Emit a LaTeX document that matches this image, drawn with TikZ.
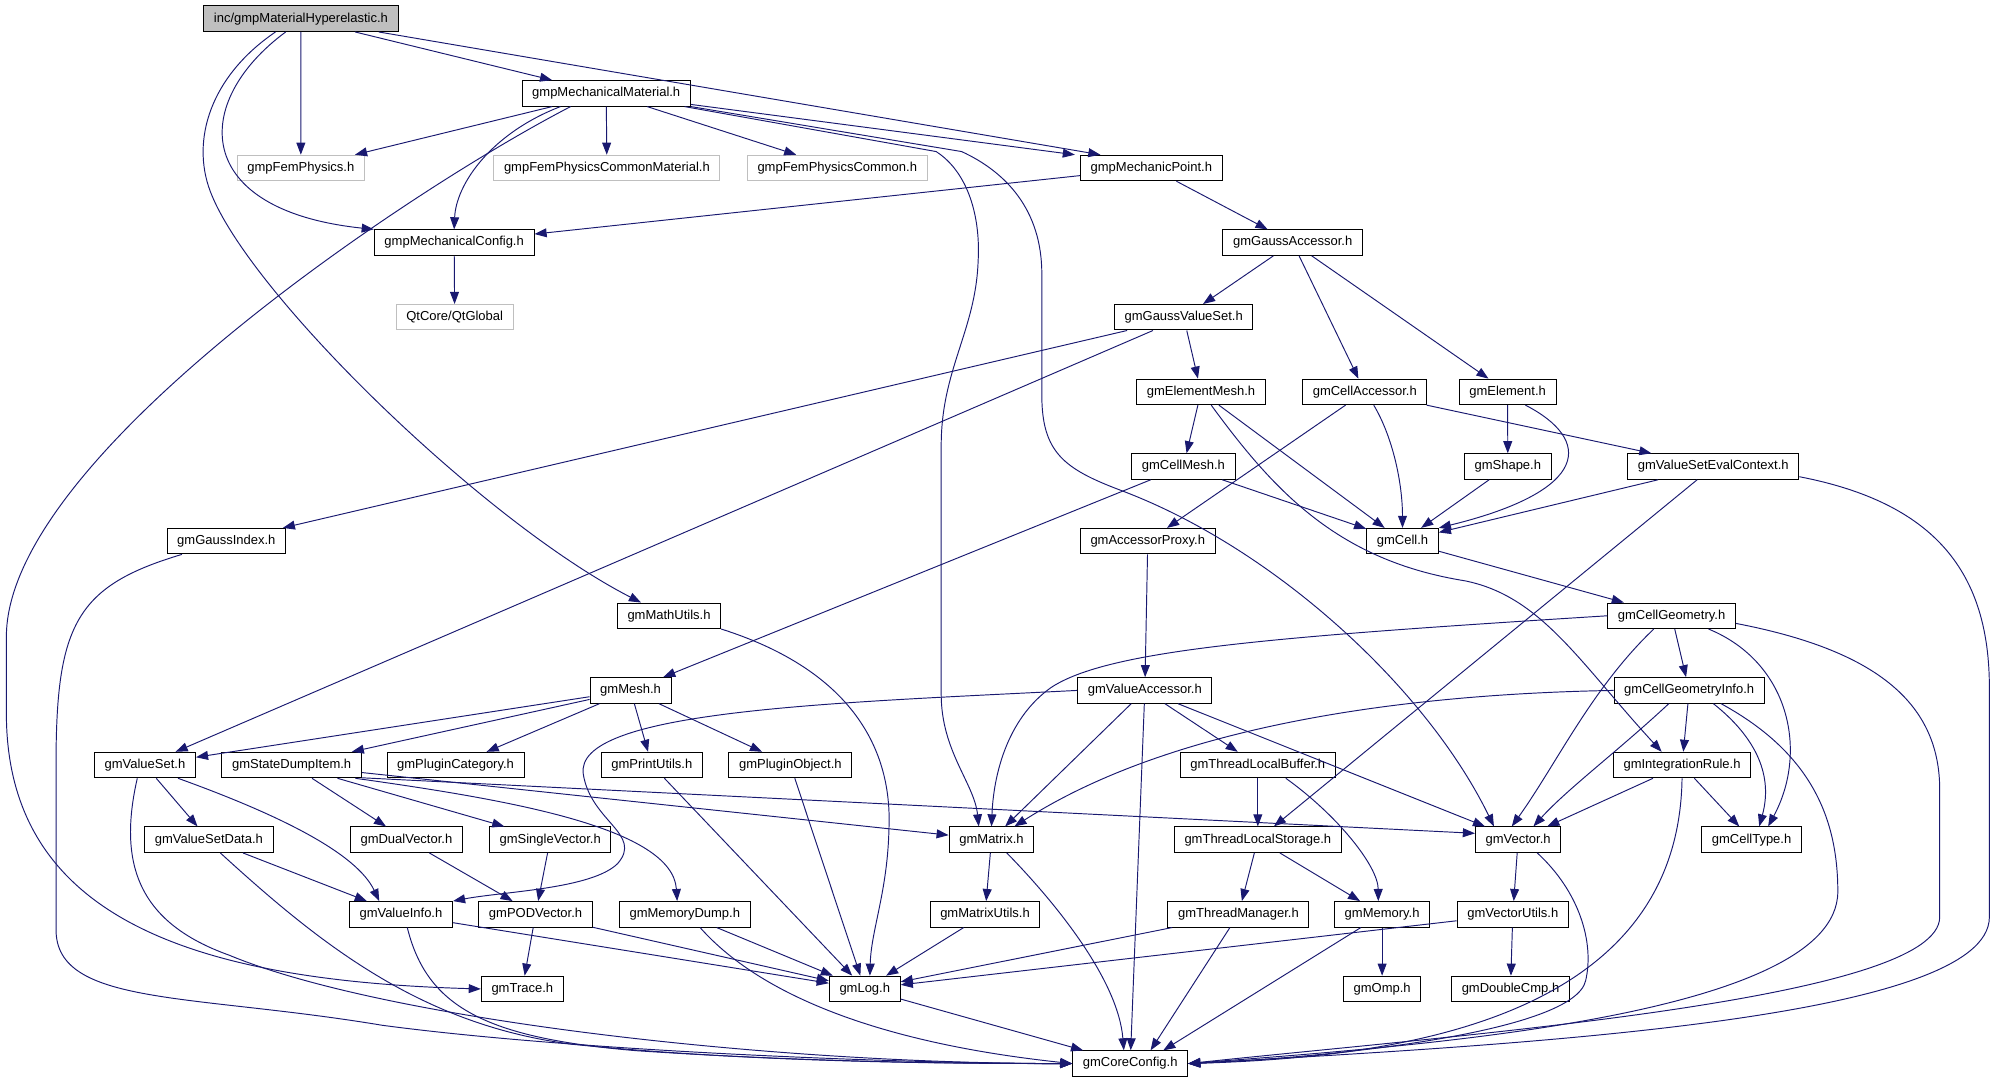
\documentclass[tikz,border=0pt]{standalone}
\usepackage{fontspec}
\setmainfont{Liberation Sans}
\usetikzlibrary{arrows.meta}
\definecolor{edgeblue}{HTML}{191970}
\definecolor{extgray}{HTML}{BFBFBF}
\begin{document}
\begin{tikzpicture}[x=1pt,y=-1pt,
		file/.style={draw=black, line width=0.8pt, fill=white, minimum height=20pt, inner xsep=8pt, inner ysep=0pt, font=\fontsize{10.2}{12}\selectfont},
		ext/.style={file, draw=extgray},
		root/.style={file, fill=extgray},
		dep/.style={draw=edgeblue, line width=0.75pt, -{Triangle[length=9.5pt,width=7pt]}}]
	\useasboundingbox (0,0) rectangle (1568,850.3);
	\node[root] (hyper) at (236.3,14.7) {inc/gmpMaterialHyperelastic.h};
	\node[file] (mechmat) at (476,73.3) {gmpMechanicalMaterial.h};
	\node[ext] (femphys) at (236.2,131.9) {gmpFemPhysics.h};
	\node[ext] (femcommat) at (476.5,131.9) {gmpFemPhysicsCommonMaterial.h};
	\node[ext] (femcom) at (657.4,131.9) {gmpFemPhysicsCommon.h};
	\node[file] (mechpt) at (904,131.9) {gmpMechanicPoint.h};
	\node[file] (mechcfg) at (356.6,190.5) {gmpMechanicalConfig.h};
	\node[file] (gaussacc) at (1015,190.5) {gmGaussAccessor.h};
	\node[ext] (qtglobal) at (357,249.1) {QtCore/QtGlobal};
	\node[file] (gaussvs) at (929.4,249.1) {gmGaussValueSet.h};
	\node[file] (elemmesh) at (943,307.7) {gmElementMesh.h};
	\node[file] (cellacc) at (1071.6,307.7) {gmCellAccessor.h};
	\node[file] (element) at (1183.7,307.7) {gmElement.h};
	\node[file] (cellmesh) at (929.2,366.3) {gmCellMesh.h};
	\node[file] (shape) at (1183.9,366.3) {gmShape.h};
	\node[file] (vsec) at (1345.2,366.3) {gmValueSetEvalContext.h};
	\node[file] (gaussidx) at (177.7,424.9) {gmGaussIndex.h};
	\node[file] (accproxy) at (901.2,424.9) {gmAccessorProxy.h};
	\node[file] (cell) at (1101.2,424.9) {gmCell.h};
	\node[file] (mathutils) at (525.3,483.5) {gmMathUtils.h};
	\node[file] (cellgeo) at (1312.5,483.5) {gmCellGeometry.h};
	\node[file] (mesh) at (495.1,542.1) {gmMesh.h};
	\node[file] (valacc) at (898.9,542.1) {gmValueAccessor.h};
	\node[file] (cellgeoinfo) at (1326.3,542.1) {gmCellGeometryInfo.h};
	\node[file] (valset) at (113.8,600.7) {gmValueSet.h};
	\node[file] (statedump) at (229,600.7) {gmStateDumpItem.h};
	\node[file] (plugcat) at (357.7,600.7) {gmPluginCategory.h};
	\node[file] (printutils) at (511.8,600.7) {gmPrintUtils.h};
	\node[file] (plugobj) at (620.6,600.7) {gmPluginObject.h};
	\node[file] (tlbuffer) at (987.6,600.7) {gmThreadLocalBuffer.h};
	\node[file] (intrule) at (1320.7,600.7) {gmIntegrationRule.h};
	\node[file] (valsetdata) at (164,659.3) {gmValueSetData.h};
	\node[file] (dualvec) at (319.1,659.3) {gmDualVector.h};
	\node[file] (singlevec) at (432,659.3) {gmSingleVector.h};
	\node[file] (matrix) at (778.5,659.3) {gmMatrix.h};
	\node[file] (tlstorage) at (987.6,659.3) {gmThreadLocalStorage.h};
	\node[file] (vector) at (1192,659.3) {gmVector.h};
	\node[file] (celltype) at (1375.3,659.3) {gmCellType.h};
	\node[file] (valinfo) at (314.8,717.9) {gmValueInfo.h};
	\node[file] (podvec) at (420.5,717.9) {gmPODVector.h};
	\node[file] (memdump) at (537.7,717.9) {gmMemoryDump.h};
	\node[file] (matrixutils) at (773.4,717.9) {gmMatrixUtils.h};
	\node[file] (threadmgr) at (972.4,717.9) {gmThreadManager.h};
	\node[file] (memory) at (1085.2,717.9) {gmMemory.h};
	\node[file] (vecutils) at (1187.8,717.9) {gmVectorUtils.h};
	\node[file] (trace) at (410.1,776.5) {gmTrace.h};
	\node[file] (log) at (679,776.5) {gmLog.h};
	\node[file] (omp) at (1085.2,776.5) {gmOmp.h};
	\node[file] (doublecmp) at (1186,776.5) {gmDoubleCmp.h};
	\node[file] (coreconfig) at (887.4,835.1) {gmCoreConfig.h};

	\draw[dep] (hyper) -- (femphys);
	\draw[dep] (hyper) -- (mechmat);
	\draw[dep] (hyper) -- ([xshift=-40pt]mechpt.north);
	\draw[dep] ([xshift=-12pt]hyper.south) .. controls (150,80) and (150,165) .. (mechcfg.north west);
	\draw[dep] ([xshift=-20pt]hyper.south) .. controls (165,60) and (150,110) .. (165,150) .. controls (195,230) and (380,410) .. ([xshift=-22pt]mathutils.north);
	\draw[dep] (mechmat) -- (femphys);
	\draw[dep] (mechmat) -- (femcommat);
	\draw[dep] (mechmat) -- (femcom);
	\draw[dep] (mechmat) -- ([xshift=-4pt]mechpt.north west);
	\draw[dep] ([xshift=-36pt]mechmat.south) .. controls (385,105) and (358,145) .. (mechcfg.north);
	\draw[dep] ([xshift=-28pt]mechmat.south) .. controls (320,150) and (5,360) .. (5,500) -- (5,560) .. controls (5,720) and (150,770) .. (trace.west);
	\draw[dep] ([xshift=-5pt]mechmat.south east) -- (735,119) .. controls (760,135) and (770,170) .. (768,205) .. controls (766,260) and (739,290) .. (739,350) -- (739,545) .. controls (739,590) and (765,615) .. ([xshift=-10pt]matrix.north);
	\draw[dep] (mechmat.south east) -- (755,119) .. controls (790,135) and (818,165) .. (818,215) -- (818,310) .. controls (818,355) and (835,368) .. (880,385) .. controls (1000,430) and (1120,540) .. ([xshift=-19pt]vector.north);
	\draw[dep] (mechpt) -- (mechcfg);
	\draw[dep] (mechpt) -- (gaussacc);
	\draw[dep] (mechcfg) -- (qtglobal);
	\draw[dep] (gaussacc) -- (gaussvs);
	\draw[dep] (gaussacc) -- (cellacc);
	\draw[dep] (gaussacc) -- (element);
	\draw[dep] (gaussvs) -- (gaussidx);
	\draw[dep] (gaussvs) -- (valset);
	\draw[dep] (gaussvs) -- (elemmesh);
	\draw[dep] (elemmesh) -- (cellmesh);
	\draw[dep] (elemmesh) -- (cell);
	\draw[dep] ([xshift=8pt]elemmesh.south) .. controls (1000,385) and (1050,440) .. (1150,456) .. controls (1210,468) and (1240,520) .. ([xshift=-16pt]intrule.north);
	\draw[dep] (cellacc) -- (accproxy);
	\draw[dep] ([xshift=7pt]cellacc.south) .. controls +(15,25) and +(0,-35) .. (cell.north);
	\draw[dep] (cellacc) -- (vsec);
	\draw[dep] (element) -- (shape);
	\draw[dep] ([xshift=14pt]element.south) .. controls (1250,345) and (1250,385) .. (cell.north east);
	\draw[dep] (shape) -- (cell);
	\draw[dep] (vsec) -- (cell);
	\draw[dep] (vsec) -- (tlstorage);
	\draw[dep] ([yshift=-8pt]vsec.east) .. controls (1520,395) and (1562,450) .. (1562,540) -- (1562,720) .. controls (1562,800) and (1200,820) .. (coreconfig.east);
	\draw[dep] (cellmesh) -- (cell);
	\draw[dep] (cellmesh) -- (mesh);
	\draw[dep] (cell) -- (cellgeo);
	\draw[dep] (gaussidx) .. controls (60,460) and (44,490) .. (44,600) -- (44,730) .. controls (44,790) and (150,780) .. (300,805) .. controls (450,825) and (700,835) .. (coreconfig.west);
	\draw[dep] (mathutils.south east) .. controls (680,530) and (700,600) .. (698,650) .. controls (697,700) and (684,730) .. ([xshift=4pt]log.north);
	\draw[dep] (cellgeo.west) .. controls (1000,500) and (870,510) .. (825,540) .. controls (790,565) and (780,610) .. (matrix.north);
	\draw[dep] ([xshift=-14pt]cellgeo.south) .. controls (1250,540) and (1222,600) .. ([xshift=-5pt]vector.north);
	\draw[dep] (cellgeo) -- (cellgeoinfo);
	\draw[dep] ([xshift=29pt]cellgeo.south) .. controls (1405,520) and (1420,590) .. ([xshift=13pt]celltype.north);
	\draw[dep] ([yshift=-6pt]cellgeo.east) .. controls (1470,510) and (1523,550) .. (1523,620) -- (1523,720) .. controls (1523,785) and (1150,812) .. (coreconfig.east);
	\draw[dep] (mesh) -- (valset);
	\draw[dep] (mesh) -- (statedump);
	\draw[dep] (mesh) -- (plugcat);
	\draw[dep] (mesh) -- (printutils);
	\draw[dep] (mesh) -- (plugobj);
	\draw[dep] (valacc.west) .. controls (650,552) and (450,558) .. (458,608) .. controls (464,645) and (505,655) .. (485,678) .. controls (465,698) and (395,700) .. (valinfo.north east);
	\draw[dep] (valacc) -- (matrix);
	\draw[dep] (valacc) -- (coreconfig);
	\draw[dep] (valacc) -- (tlbuffer);
	\draw[dep] (valacc) -- (vector);
	\draw[dep] (accproxy) -- (valacc);
	\draw[dep] ([xshift=-16pt]cellgeoinfo.south) .. controls (1270,590) and (1230,620) .. ([xshift=12pt]vector.north);
	\draw[dep] (cellgeoinfo.west) .. controls (1100,545) and (920,570) .. ([xshift=18pt]matrix.north);
	\draw[dep] (cellgeoinfo) -- (intrule);
	\draw[dep] ([xshift=19pt]cellgeoinfo.south) .. controls (1380,580) and (1392,610) .. ([xshift=6pt]celltype.north);
	\draw[dep] ([xshift=25pt]cellgeoinfo.south) .. controls (1420,590) and (1443,640) .. (1443,700) .. controls (1443,800) and (1100,822) .. (coreconfig.east);
	\draw[dep] (valset) -- (valsetdata);
	\draw[dep] ([xshift=26pt]valset.south) .. controls (220,640) and (280,670) .. ([xshift=-17pt]valinfo.north);
	\draw[dep] ([xshift=-6pt]valset.south) .. controls (92,680) and (110,725) .. (180,750) .. controls (300,800) and (600,835) .. (coreconfig.west);
	\draw[dep] (statedump) -- (dualvec);
	\draw[dep] (statedump) -- (singlevec);
	\draw[dep] ([xshift=50pt]statedump.south) .. controls (400,628) and (528,650) .. ([xshift=-6pt]memdump.north);
	\draw[dep] (statedump) -- (matrix);
	\draw[dep] ([yshift=-10pt]statedump.east) -- ([yshift=5pt]vector.west);
	\draw[dep] (valsetdata) -- (valinfo);
	\draw[dep] ([xshift=9pt]valsetdata.south) .. controls (250,740) and (330,805) .. (450,820) .. controls (600,835) and (760,835) .. (coreconfig.west);
	\draw[dep] (dualvec) -- (podvec);
	\draw[dep] (singlevec) -- (podvec);
	\draw[dep] (valinfo) -- (log);
	\draw[dep] ([xshift=5pt]valinfo.south) .. controls (335,790) and (380,815) .. (500,825) .. controls (650,835) and (780,835) .. (coreconfig.west);
	\draw[dep] (podvec) -- (trace);
	\draw[dep] (podvec) -- (log);
	\draw[dep] (memdump) -- (log);
	\draw[dep] ([xshift=12pt]memdump.south) .. controls (600,785) and (700,820) .. (coreconfig.west);
	\draw[dep] (printutils) -- (log);
	\draw[dep] (plugobj) -- (log);
	\draw[dep] (tlbuffer) -- (tlstorage);
	\draw[dep] ([xshift=22pt]tlbuffer.south) .. controls (1050,640) and (1082,680) .. ([xshift=-3pt]memory.north);
	\draw[dep] (intrule) -- (vector);
	\draw[dep] (intrule) -- (celltype);
	\draw[dep] (intrule.south) .. controls (1318,800) and (1100,830) .. (coreconfig.east);
	\draw[dep] (matrix) -- (matrixutils);
	\draw[dep] ([xshift=12pt]matrix.south) .. controls (830,710) and (878,770) .. ([xshift=-5pt]coreconfig.north);
	\draw[dep] (tlstorage) -- (threadmgr);
	\draw[dep] (tlstorage) -- (memory);
	\draw[dep] (vector) -- (vecutils);
	\draw[dep] ([xshift=15pt]vector.south) .. controls (1240,700) and (1252,740) .. (1245,770) .. controls (1236,810) and (1050,830) .. (coreconfig.east);
	\draw[dep] (threadmgr) -- (log);
	\draw[dep] (threadmgr) -- ([xshift=16pt]coreconfig.north);
	\draw[dep] (memory) -- (omp);
	\draw[dep] (memory) -- ([xshift=26pt]coreconfig.north);
	\draw[dep] (vecutils) -- (doublecmp);
	\draw[dep] (vecutils) -- (log);
	\draw[dep] (matrixutils) -- (log);
	\draw[dep] (log) -- (coreconfig);
\end{tikzpicture}
\end{document}
